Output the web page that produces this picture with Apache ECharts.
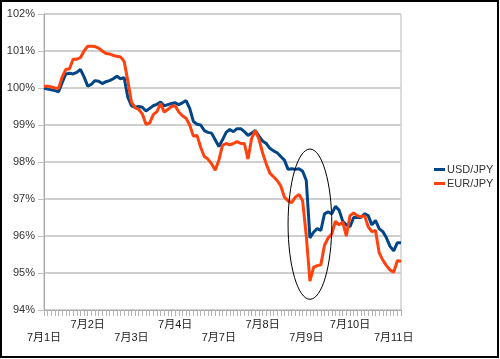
<!DOCTYPE html>
<html>
<head>
<meta charset="utf-8">
<script src="https://cdn.jsdelivr.net/npm/echarts@6/dist/echarts.min.js"></script>
<style>
html,body{margin:0;padding:0;background:#fff;}
#chart{width:500px;height:359px;}
</style>
</head>
<body>
<div id="chart"></div>
<script>
// ---- data ----
const dayLabels = ['7月1日','7月2日','7月3日','7月4日','7月7日','7月8日','7月9日','7月10日','7月11日'];
const pointsPerDay = 12; // 2-hour steps
const yTicks = [94, 95, 96, 97, 98, 99, 100, 101, 102];

const usdJpy = [
  100.0, 99.97, 99.95, 99.93, 99.9, 100.15, 100.38, 100.4, 100.38, 100.42, 100.5, 100.3,
  100.05, 100.1, 100.2, 100.18, 100.12, 100.17, 100.2, 100.25, 100.32, 100.25, 100.28, 99.75,
  99.52, 99.48, 99.5, 99.48, 99.38, 99.45, 99.52, 99.56, 99.62, 99.52, 99.55, 99.58,
  99.6, 99.55, 99.6, 99.66, 99.45, 99.1, 99.02, 99.0, 98.85, 98.8, 98.78, 98.6,
  98.42, 98.6, 98.8, 98.88, 98.82, 98.9, 98.9, 98.82, 98.72, 98.78, 98.85, 98.7,
  98.57, 98.5, 98.37, 98.3, 98.25, 98.15, 98.05, 97.8, 97.82, 97.8, 97.82, 97.75,
  97.5, 95.95, 96.1, 96.2, 96.15, 96.6, 96.65, 96.6, 96.8, 96.7, 96.4, 96.3,
  96.25, 96.5, 96.5, 96.5, 96.6, 96.55, 96.3, 96.42, 96.2, 96.12, 95.95, 95.72,
  95.6, 95.82, 95.82
];
const eurJpy = [
  100.05, 100.05, 100.03, 100.0, 99.99, 100.3, 100.5, 100.52, 100.78, 100.78, 100.82, 101.0,
  101.13, 101.13, 101.12, 101.08, 101.0, 100.93, 100.92, 100.88, 100.86, 100.84, 100.72, 100.2,
  99.62, 99.47, 99.42, 99.3, 99.02, 99.05, 99.28, 99.36, 99.58, 99.35, 99.42, 99.5,
  99.52, 99.35, 99.25, 99.18, 99.0, 98.7, 98.72, 98.4, 98.15, 98.08, 97.95, 97.78,
  98.05, 98.45, 98.5, 98.46, 98.5, 98.55, 98.5, 98.5, 98.08, 98.64, 98.85, 98.62,
  98.25, 97.95, 97.7, 97.6, 97.5, 97.35, 97.05, 96.95, 96.9, 97.05, 97.12, 96.95,
  96.0, 94.78, 95.15, 95.2, 95.22, 95.75, 95.95, 96.05, 96.4, 96.3, 96.38, 96.0,
  96.55, 96.62, 96.55, 96.52, 96.55, 96.25, 96.12, 96.15, 95.55, 95.35, 95.2, 95.08,
  95.02, 95.33, 95.32
];

// annotation ellipse around the 7/9 drop (in data units: category index, percent)
const ellipseCenter = [72.9, 96.32];
const ellipseHalfSpan = [5.9, 2.03];

// ---- build categories ----
const categories = usdJpy.map((v, i) => {
  const d = Math.floor(i / pointsPerDay);
  const h = (i % pointsPerDay) * 2;
  return dayLabels[Math.min(d, dayLabels.length - 1)] + ' ' + h + '時' + (d >= dayLabels.length ? '+' : '');
});

const font = "'Liberation Sans','Noto Sans CJK JP',Arial,sans-serif";
const chart = echarts.init(document.getElementById('chart'), null, {renderer: 'canvas'});

const option = {
  animation: false,
  backgroundColor: '#ffffff',
  textStyle: {fontFamily: font},
  grid: {left: 44, right: 99, top: 14, bottom: 49, show: true, borderColor: '#b8b8b8', borderWidth: 1, backgroundColor: 'transparent'},
  legend: {
    orient: 'vertical', left: 429, top: 159,
    icon: 'rect', itemWidth: 11, itemHeight: 3, itemGap: 3,
    textStyle: {fontSize: 11, color: '#333', fontFamily: font, padding: [0,0,0,-3]},
    data: ['USD/JPY', 'EUR/JPY']
  },
  xAxis: {
    type: 'category', data: categories, boundaryGap: false,
    axisLine: {lineStyle: {color: '#a8a8a8', width: 1}},
    axisTick: {show: true, interval: 0, length: 6, lineStyle: {color: '#b4b4b4'}},
    axisLabel: {
      interval: function (index) { return index % pointsPerDay === 0; },
      formatter: function (value, index) {
        const d = Math.round(index / pointsPerDay);
        const name = value.split(' ')[0];
        return d % 2 === 0 ? '\n' + name : name;
      },
      margin: 8, fontSize: 11, lineHeight: 13, color: '#222', fontFamily: font
    },
    splitLine: {show: false}
  },
  yAxis: {
    type: 'value', min: yTicks[0], max: yTicks[yTicks.length - 1], interval: 1,
    axisLine: {show: true, lineStyle: {color: '#a8a8a8', width: 1}},
    axisTick: {show: true, length: 6, lineStyle: {color: '#c0c0c0'}},
    axisLabel: {formatter: '{value}%', fontSize: 11, color: '#333', margin: 9, fontFamily: font},
    splitLine: {show: true, lineStyle: {color: '#cfcfcf', width: 2}}
  },
  series: [
    {name: 'USD/JPY', type: 'line', data: usdJpy, showSymbol: false, symbol: 'none',
     lineStyle: {color: '#004586', width: 3}, itemStyle: {color: '#004586'}, z: 2},
    {name: 'EUR/JPY', type: 'line', data: eurJpy, showSymbol: false, symbol: 'none',
     lineStyle: {color: '#ff420e', width: 3}, itemStyle: {color: '#ff420e'}, z: 3}
  ]
};
chart.setOption(option);

// ellipse annotation positioned via the chart's own scales
const c = chart.convertToPixel({gridIndex: 0}, ellipseCenter);
const lt = chart.convertToPixel({gridIndex: 0}, [ellipseCenter[0] - ellipseHalfSpan[0], ellipseCenter[1] + ellipseHalfSpan[1]]);
chart.setOption({
  graphic: [
    {type: 'ellipse', shape: {cx: c[0], cy: c[1], rx: c[0] - lt[0], ry: c[1] - lt[1]},
     style: {fill: 'none', stroke: '#000', lineWidth: 1}, z: 10},
    {type: 'rect', shape: {x: 1, y: 1, width: 497, height: 356},
     style: {fill: 'none', stroke: '#000', lineWidth: 2}, z: 10}
  ]
});
</script>
</body>
</html>
